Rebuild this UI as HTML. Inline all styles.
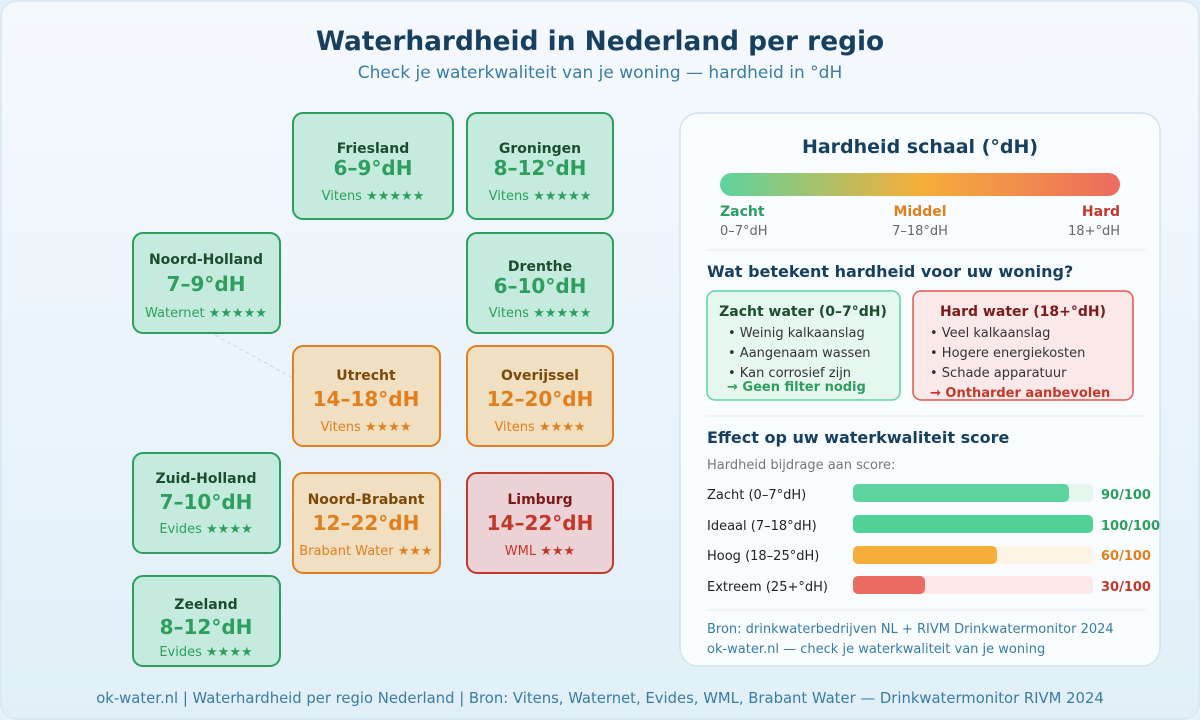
<!DOCTYPE html>
<html><head><meta charset="utf-8"><style>
html,body{margin:0;padding:0;width:1200px;height:720px;overflow:hidden;background:#e4f1fa}
text{font-family:"DejaVu Sans","Liberation Sans",sans-serif}
</style></head><body>
<svg width="1200" height="720" viewBox="0 0 1200 720" xmlns="http://www.w3.org/2000/svg">
<defs>
<linearGradient id="bg" x1="0" y1="0" x2="0" y2="1"><stop offset="0" stop-color="#f5f9fd"/><stop offset="1" stop-color="#e1eff8"/></linearGradient>
<linearGradient id="sc" x1="0" y1="0" x2="1" y2="0"><stop offset="0" stop-color="#5dd39e"/><stop offset="0.5" stop-color="#f5ae3a"/><stop offset="1" stop-color="#ec6b5f"/></linearGradient>
</defs>
<rect x="1" y="1" width="1198" height="718" rx="16" fill="url(#bg)" stroke="#cfe0ec"/>
<text x="600" y="50" text-anchor="middle" font-size="26.4" font-weight="bold" fill="#173f5f">Waterhardheid in Nederland per regio</text>
<text x="600" y="78" text-anchor="middle" font-size="17" fill="#3a7ca5">Check je waterkwaliteit van je woning — hardheid in °dH</text>
<line x1="215" y1="335" x2="293" y2="378" stroke="#c8d8e2" stroke-dasharray="4 3"/>
<g font-weight="bold" text-anchor="middle">
<g fill="#c4ebdd" stroke="#2e9e5e" stroke-width="2">
<rect x="293" y="113" width="160" height="106" rx="10"/>
<rect x="467" y="113" width="146" height="106" rx="10"/>
<rect x="133" y="233" width="147" height="100" rx="10"/>
<rect x="467" y="233" width="146" height="100" rx="10"/>
<rect x="133" y="453" width="147" height="100" rx="10"/>
<rect x="133" y="576" width="147" height="90" rx="10"/>
</g>
<g fill="#f0dfc0" stroke="#e07f1f" stroke-width="2">
<rect x="293" y="346" width="147" height="100" rx="10"/>
<rect x="467" y="346" width="146" height="100" rx="10"/>
<rect x="293" y="473" width="147" height="100" rx="10"/>
</g>
<rect x="467" y="473" width="146" height="100" rx="10" fill="#ecd2d6" stroke="#c0392b" stroke-width="2"/>
<g font-size="14" fill="#1b4d2e">
<text x="373" y="153">Friesland</text><text x="540" y="153">Groningen</text>
<text x="206" y="264">Noord-Holland</text><text x="540" y="271">Drenthe</text>
<text x="206" y="483">Zuid-Holland</text><text x="206" y="609">Zeeland</text>
</g>
<g font-size="14" fill="#7a4a0a">
<text x="366" y="380">Utrecht</text><text x="540" y="380">Overijssel</text><text x="366" y="504">Noord-Brabant</text>
</g>
<text x="540" y="504" font-size="14" fill="#7b1a1a">Limburg</text>
<g font-size="20" fill="#2e9e5e">
<text x="373" y="175">6–9°dH</text><text x="540" y="175">8–12°dH</text>
<text x="206" y="291">7–9°dH</text><text x="540" y="293">6–10°dH</text>
<text x="206" y="509">7–10°dH</text><text x="206" y="634">8–12°dH</text>
</g>
<g font-size="20" fill="#e07f1f">
<text x="366" y="406">14–18°dH</text><text x="540" y="406">12–20°dH</text><text x="366" y="530">12–22°dH</text>
</g>
<text x="540" y="530" font-size="20" fill="#c0392b">14–22°dH</text>
</g>
<g text-anchor="middle" font-size="13">
<g fill="#2e9e5e">
<text x="373" y="200">Vitens ★★★★★</text><text x="540" y="200">Vitens ★★★★★</text>
<text x="206" y="317">Waternet ★★★★★</text><text x="540" y="317">Vitens ★★★★★</text>
<text x="206" y="533">Evides ★★★★</text><text x="206" y="656">Evides ★★★★</text>
</g>
<g fill="#e07f1f">
<text x="366" y="431">Vitens ★★★★</text><text x="540" y="431">Vitens ★★★★</text><text x="366" y="555">Brabant Water ★★★</text>
</g>
<text x="540" y="555" fill="#c0392b">WML ★★★</text>
</g>
<rect x="680" y="113" width="480" height="553" rx="18" fill="#f9fcfe" stroke="#cfe3ef" stroke-width="1.5"/>
<text x="920" y="153" text-anchor="middle" font-size="19" font-weight="bold" fill="#173f5f">Hardheid schaal (°dH)</text>
<rect x="720" y="173" width="400" height="23" rx="11.5" fill="url(#sc)"/>
<g font-size="14" font-weight="bold">
<text x="720" y="216" fill="#2e9e5e">Zacht</text>
<text x="920" y="216" text-anchor="middle" fill="#e07f1f">Middel</text>
<text x="1120" y="216" text-anchor="end" fill="#c0392b">Hard</text>
</g>
<g font-size="13" fill="#666">
<text x="720" y="235">0–7°dH</text><text x="920" y="235" text-anchor="middle">7–18°dH</text><text x="1120" y="235" text-anchor="end">18+°dH</text>
</g>
<line x1="707" y1="250" x2="1146" y2="250" stroke="#e3ebf0"/>
<text x="707" y="277" font-size="16" font-weight="bold" fill="#173f5f">Wat betekent hardheid voor uw woning?</text>
<rect x="707" y="291" width="193" height="109" rx="8" fill="#e6f7f0" stroke="#5dd39e" stroke-width="1.5"/>
<rect x="913" y="291" width="220" height="109" rx="8" fill="#fbe9e9" stroke="#e0574c" stroke-width="1.5"/>
<text x="803" y="316" text-anchor="middle" font-size="14" font-weight="bold" fill="#1b4d2e">Zacht water (0–7°dH)</text>
<text x="1023" y="316" text-anchor="middle" font-size="14" font-weight="bold" fill="#7b1a1a">Hard water (18+°dH)</text>
<g font-size="13" fill="#333">
<text x="728" y="337">• Weinig kalkaanslag</text><text x="728" y="357">• Aangenaam wassen</text><text x="728" y="377">• Kan corrosief zijn</text>
<text x="930" y="337">• Veel kalkaanslag</text><text x="930" y="357">• Hogere energiekosten</text><text x="930" y="377">• Schade apparatuur</text>
</g>
<text x="727" y="391" font-size="13" font-weight="bold" fill="#2e9e5e">→ Geen filter nodig</text>
<text x="930" y="397" font-size="13" font-weight="bold" fill="#c0392b">→ Ontharder aanbevolen</text>
<line x1="707" y1="416" x2="1146" y2="416" stroke="#e3ebf0"/>
<text x="707" y="443" font-size="16" font-weight="bold" fill="#173f5f">Effect op uw waterkwaliteit score</text>
<text x="707" y="469" font-size="13" fill="#777">Hardheid bijdrage aan score:</text>
<g font-size="13" fill="#222">
<text x="707" y="499">Zacht (0–7°dH)</text><text x="707" y="530">Ideaal (7–18°dH)</text><text x="707" y="560">Hoog (18–25°dH)</text><text x="707" y="591">Extreem (25+°dH)</text>
</g>
<rect x="853" y="484" width="240" height="18" rx="5" fill="#e5f6ef"/><rect x="853" y="484" width="216" height="18" rx="5" fill="#5dd39e"/>
<rect x="853" y="515" width="240" height="18" rx="5" fill="#50d196"/>
<rect x="853" y="546" width="240" height="18" rx="5" fill="#fdf4e4"/><rect x="853" y="546" width="144" height="18" rx="5" fill="#f5ae3a"/>
<rect x="853" y="576" width="240" height="18" rx="5" fill="#fce8e8"/><rect x="853" y="576" width="72" height="18" rx="5" fill="#e96b62"/>
<g font-size="13" font-weight="bold">
<text x="1101" y="499" fill="#2e9e5e">90/100</text><text x="1101" y="530" fill="#2e9e5e">100/100</text>
<text x="1101" y="560" fill="#e07f1f">60/100</text><text x="1101" y="591" fill="#c0392b">30/100</text>
</g>
<line x1="707" y1="610" x2="1146" y2="610" stroke="#e3ebf0"/>
<g font-size="13" fill="#3a7ca5">
<text x="707" y="633">Bron: drinkwaterbedrijven NL + RIVM Drinkwatermonitor 2024</text>
<text x="707" y="653">ok-water.nl — check je waterkwaliteit van je woning</text>
</g>
<text x="600" y="703" text-anchor="middle" font-size="14.8" fill="#3a7ca5">ok-water.nl | Waterhardheid per regio Nederland | Bron: Vitens, Waternet, Evides, WML, Brabant Water — Drinkwatermonitor RIVM 2024</text>
</svg>
</body></html>
